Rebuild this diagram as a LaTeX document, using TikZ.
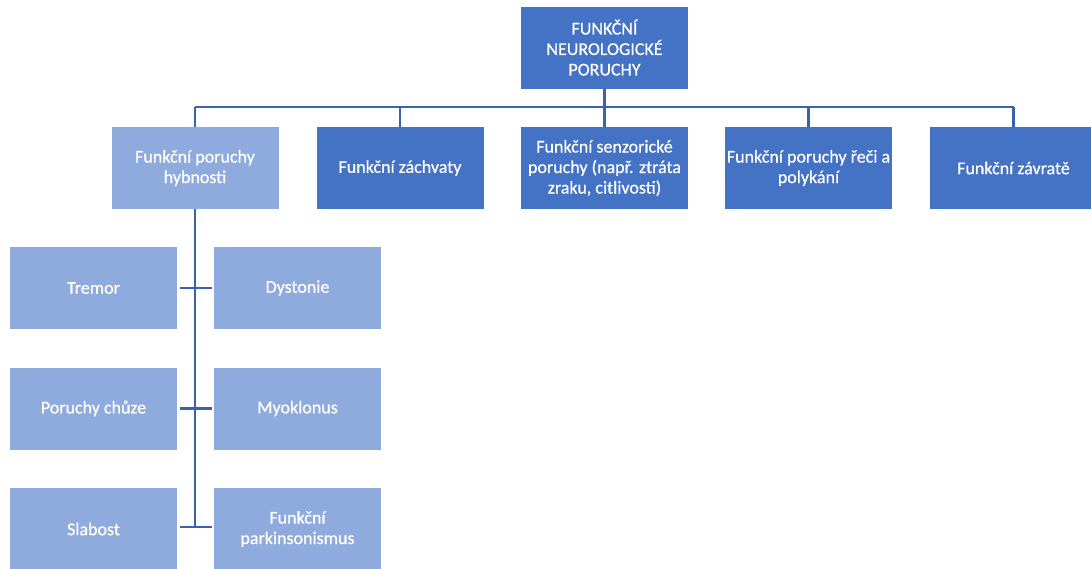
\documentclass[tikz,border=0pt]{standalone}
\usepackage{fontspec}
\setmainfont{Carlito}
\newfontfamily\boxfont[FakeBold=0.6]{Carlito}
\definecolor{dkblue}{HTML}{4472C4}
\definecolor{ltblue}{HTML}{8FAADC}
\definecolor{lnblue}{HTML}{3A62AE}
\tikzset{
  box/.style={rectangle, minimum width=167pt, minimum height=82pt, inner sep=2pt,
    text=white, align=center, font=\boxfont\fontsize{18}{20.5}\selectfont, draw=none},
  dkbox/.style={box, fill=dkblue},
  ltbox/.style={box, fill=ltblue},
  conn/.style={draw=lnblue, line width=2.5pt}
}
\begin{document}
\begin{tikzpicture}[x=1pt,y=-1pt]
\useasboundingbox (0,0) rectangle (1091,568);
\clip (0,0) rectangle (1091,568);
\node[dkbox] (top) at (604.5,47.5) {FUNKČNÍ\\NEUROLOGICKÉ\\PORUCHY};
\node[ltbox] (b1) at (195,168) {Funkční poruchy\\hybnosti};
\node[dkbox] (b2) at (400,168) {Funkční záchvaty};
\node[dkbox] (b3) at (604.5,168) {Funkční senzorické\\poruchy (např. ztráta\\zraku, citlivosti)};
\node[dkbox] (b4) at (808.5,168) {Funkční poruchy řeči a\\polykání};
\node[dkbox] (b5) at (1013.5,168) {Funkční závratě};
\node[ltbox] (l1) at (93.5,288) {Tremor};
\node[ltbox] (r1) at (297.5,288) {Dystonie};
\node[ltbox] (l2) at (93.5,408.5) {Poruchy chůze};
\node[ltbox] (r2) at (297.5,408.5) {Myoklonus};
\node[ltbox] (l3) at (93.5,529) {Slabost};
\node[ltbox] (r3) at (297.5,529) {Funkční\\parkinsonismus};
\coordinate (bus) at (0,107);
\draw[conn] (top.south) -- (top.south |- bus);
\draw[conn] (b1.north |- bus) -- (b5.north |- bus);
\foreach \n in {b1,b2,b3,b4,b5} \draw[conn] (\n.north |- bus) -- (\n.north);
\coordinate (trunkend) at (0,527);
\draw[conn] (b1.south) -- (b1.south |- trunkend);
\draw[conn] ([xshift=3pt]l1.east) -- ([xshift=-2pt]r1.west);
\draw[conn] ([xshift=3pt]l2.east) -- ([xshift=-2pt]r2.west);
\coordinate (s3) at (0,527);
\draw[conn] ([xshift=3pt]l3.east |- s3) -- ([xshift=-2pt]r3.west |- s3);
\end{tikzpicture}
\end{document}
